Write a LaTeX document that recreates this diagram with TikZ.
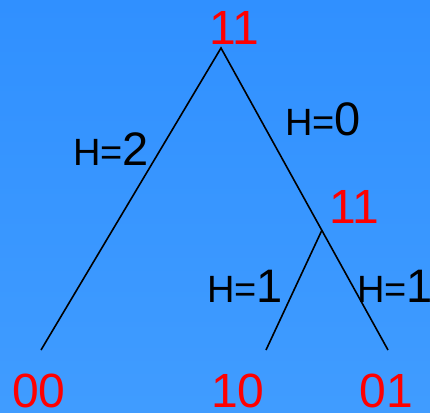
\documentclass[tikz,border=0pt]{standalone}
\usepackage{fontspec}
\setmainfont{Liberation Sans}
\definecolor{bgtop}{RGB}{48,144,255}
\definecolor{bgbot}{RGB}{64,156,255}
\tikzset{
  state/.style={text=red,font=\fontsize{48}{48}\selectfont,inner sep=0pt,anchor=base},
  hlabel/.style={text=black,inner sep=0pt,anchor=base},
  edge/.style={line width=1.6pt}
}
\newcommand{\hval}[1]{{\fontsize{38}{38}\selectfont H=}{\fontsize{47}{47}\selectfont #1}}
\begin{document}
\begin{tikzpicture}[x=1pt,y=-1pt]
\shade[top color=bgtop,bottom color=bgbot] (0,0) rectangle (430,412);
\useasboundingbox (0,0) rectangle (430,412);
\coordinate (top) at (221,48);
\coordinate (fork) at (322,230);
\coordinate (end00) at (41,350);
\coordinate (end10) at (266,350);
\coordinate (end01) at (388,350);
\draw[edge] (end00) -- (top) -- (end01);
\draw[edge] (fork) -- (end10);
\node[state] (root) at (234,45) {11};
\node[state] (inner) at (354,223) {11};
\node[state] (leaf00) at (39,407) {00};
\node[state] (leaf10) at (238,407) {10};
\node[state] (leaf01) at (386,407) {01};
\node[hlabel] (hleft) at (111,165) {\hval{2}};
\node[hlabel] (hright) at (323,135) {\hval{0}};
\node[hlabel] (hten) at (245,302) {\hval{1}};
\node[hlabel] (hone) at (395,302) {\hval{1}};
\end{tikzpicture}
\end{document}
